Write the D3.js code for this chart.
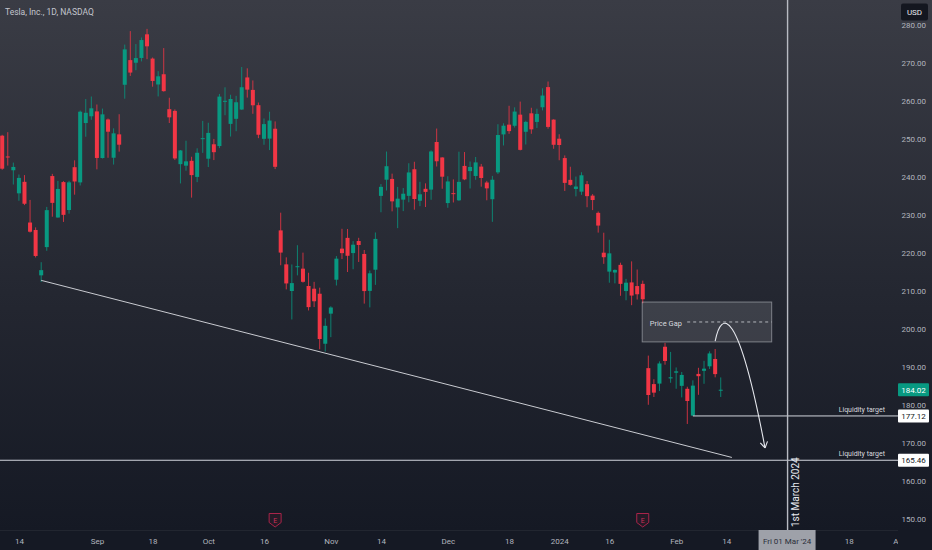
<!DOCTYPE html>
<html>
<head>
<meta charset="utf-8">
<script src="https://cdn.jsdelivr.net/npm/d3@7"></script>
<style>
  html, body { margin: 0; padding: 0; background: #151924; }
  svg { display: block; font-family: Roboto, "Noto Sans", sans-serif; }
</style>
</head>
<body>
<div id="chart"></div>
<script>
// Tesla daily candles, Aug 9 2023 - Feb 13 2024
var dates = ["2023-08-09","2023-08-10","2023-08-11","2023-08-14","2023-08-15","2023-08-16","2023-08-17","2023-08-18",
  "2023-08-21","2023-08-22","2023-08-23","2023-08-24","2023-08-25","2023-08-28","2023-08-29","2023-08-30","2023-08-31",
  "2023-09-01","2023-09-05","2023-09-06","2023-09-07","2023-09-08","2023-09-11","2023-09-12","2023-09-13","2023-09-14",
  "2023-09-15","2023-09-18","2023-09-19","2023-09-20","2023-09-21","2023-09-22","2023-09-25","2023-09-26","2023-09-27",
  "2023-09-28","2023-09-29","2023-10-02","2023-10-03","2023-10-04","2023-10-05","2023-10-06","2023-10-09","2023-10-10",
  "2023-10-11","2023-10-12","2023-10-13","2023-10-16","2023-10-17","2023-10-18","2023-10-19","2023-10-20","2023-10-23",
  "2023-10-24","2023-10-25","2023-10-26","2023-10-27","2023-10-30","2023-10-31","2023-11-01","2023-11-02","2023-11-03",
  "2023-11-06","2023-11-07","2023-11-08","2023-11-09","2023-11-10","2023-11-13","2023-11-14","2023-11-15","2023-11-16",
  "2023-11-17","2023-11-20","2023-11-21","2023-11-22","2023-11-24","2023-11-27","2023-11-28","2023-11-29","2023-11-30",
  "2023-12-01","2023-12-04","2023-12-05","2023-12-06","2023-12-07","2023-12-08","2023-12-11","2023-12-12","2023-12-13",
  "2023-12-14","2023-12-15","2023-12-18","2023-12-19","2023-12-20","2023-12-21","2023-12-22","2023-12-26","2023-12-27",
  "2023-12-28","2023-12-29","2024-01-02","2024-01-03","2024-01-04","2024-01-05","2024-01-08","2024-01-09","2024-01-10",
  "2024-01-11","2024-01-12","2024-01-16","2024-01-17","2024-01-18","2024-01-19","2024-01-22","2024-01-23","2024-01-24",
  "2024-01-25","2024-01-26","2024-01-29","2024-01-30","2024-01-31","2024-02-01","2024-02-02","2024-02-05","2024-02-06",
  "2024-02-07","2024-02-08","2024-02-09","2024-02-12","2024-02-13"];

var opens = [250.87,245.40,241.77,235.70,238.73,228.02,226.06,214.12,
  221.55,240.25,229.34,238.66,231.31,242.58,238.58,254.20,255.98,
  257.26,245.00,255.14,245.07,251.22,264.27,270.76,270.07,271.32,
  277.55,271.16,264.35,267.04,257.85,257.40,243.38,242.98,244.26,
  240.02,250.00,244.81,248.61,248.14,260.00,253.98,255.31,257.75,
  266.20,262.92,258.90,250.05,250.10,252.70,225.95,217.01,210.00,
  216.50,215.88,211.32,210.60,209.28,196.12,204.04,212.97,221.15,
  223.98,219.98,223.15,219.75,210.03,215.60,235.03,239.29,239.49,
  232.00,234.04,235.04,242.04,233.75,236.89,236.68,249.21,245.14,
  233.14,235.75,233.87,242.92,241.55,240.27,242.74,238.55,234.15,
  241.22,251.21,253.78,253.48,256.41,251.90,256.76,254.49,258.35,
  263.66,255.10,250.08,244.98,239.25,236.86,236.14,238.11,235.10,
  230.57,220.08,215.10,214.86,216.88,209.99,212.26,211.30,211.88,
  189.70,185.50,185.63,195.33,187.00,188.50,185.04,184.26,177.21,
  188.18,189.00,190.18,192.11,183.99];

var highs = [251.10,251.80,243.79,240.66,240.50,233.97,226.74,217.58,
  232.13,240.82,238.98,238.92,239.00,244.38,257.48,260.51,261.18,
  259.08,258.00,255.39,252.81,256.52,274.85,278.39,274.98,276.71,
  278.98,271.44,267.85,273.93,260.86,257.79,247.10,249.55,245.33,
  247.55,254.77,254.28,250.02,261.86,263.60,261.65,261.36,268.94,
  268.60,265.41,259.60,255.40,257.18,254.63,230.61,218.86,216.98,
  222.05,220.10,214.80,212.41,210.88,202.80,205.99,219.20,226.37,
  226.32,223.12,224.00,220.80,215.38,225.40,238.14,246.70,240.88,
  237.39,237.10,243.62,244.01,238.75,238.33,247.00,252.75,245.22,
  240.19,239.37,246.66,246.57,244.08,245.27,243.44,238.99,240.30,
  253.88,254.13,258.74,258.34,259.84,254.80,258.22,257.97,263.34,
  265.13,255.19,251.25,245.68,242.70,240.12,241.25,238.96,235.50,
  230.93,225.34,223.49,215.67,217.45,213.19,217.80,215.65,212.73,
  193.00,186.78,191.48,196.36,193.97,189.88,188.69,184.81,186.49,
  189.79,191.62,194.12,194.73,187.26];

var lows = [241.90,243.00,238.02,233.75,232.61,225.38,218.83,212.36,
  220.58,229.55,229.29,228.18,230.35,235.35,237.77,250.59,255.05,
  242.01,244.86,245.06,243.27,246.67,260.61,266.60,268.10,270.42,
  271.00,263.76,261.20,262.46,254.21,244.48,238.31,241.66,234.58,
  238.65,246.35,242.62,244.45,247.60,256.25,250.65,252.05,257.65,
  260.90,256.63,250.22,248.48,247.08,242.08,216.78,210.42,202.51,
  214.11,212.20,204.88,205.77,194.67,194.07,197.85,211.45,218.40,
  215.00,215.72,217.64,206.68,205.69,211.61,230.72,236.45,230.96,
  226.54,231.02,233.34,231.40,232.33,232.10,234.01,242.76,236.91,
  231.90,233.29,233.70,239.17,236.98,239.27,237.45,233.87,228.20,
  240.79,248.30,251.36,253.01,247.00,248.55,251.37,252.91,257.52,
  252.71,247.43,244.41,236.32,237.73,234.90,235.30,232.04,231.29,
  225.37,217.15,212.18,212.01,208.74,207.56,206.27,207.75,206.77,
  180.06,182.10,183.67,190.61,185.85,184.28,182.00,175.01,177.11,
  182.68,185.58,189.48,187.28,182.11];

var closes = [242.19,245.34,242.65,239.76,232.96,225.60,219.22,215.49,
  231.28,233.19,236.86,230.04,238.59,238.82,257.18,256.90,258.08,
  245.01,256.49,251.92,251.49,248.50,273.58,267.48,271.30,276.04,
  274.39,265.28,266.50,262.59,255.70,244.88,246.99,244.12,240.50,
  246.38,250.22,251.60,246.53,261.16,260.05,260.53,259.67,263.62,
  262.99,258.87,251.12,253.92,254.85,242.68,220.11,211.99,212.08,
  216.52,212.42,205.76,207.30,197.36,200.84,205.66,218.51,219.96,
  219.27,222.18,222.11,209.98,214.65,223.71,237.41,242.84,233.59,
  234.30,235.60,241.20,234.21,235.45,236.08,246.72,244.14,240.08,
  238.83,235.58,238.72,239.37,242.64,243.84,239.74,237.01,239.29,
  251.05,253.50,252.08,257.22,247.14,254.50,252.54,256.61,261.44,
  253.18,248.48,248.42,238.45,237.93,237.49,240.45,234.96,233.94,
  227.22,218.89,219.91,215.55,211.88,212.19,208.80,209.14,207.83,
  182.63,183.25,190.93,191.59,187.29,188.86,187.91,181.06,185.10,
  187.58,189.56,193.57,188.13,184.02];

// axis ticks
var priceTicks = [150, 160, 170, 180, 190, 200, 210, 220, 230, 240, 250, 260, 270, 280];
// bar index (from first candle) of each time label, future bars included
var timeTickIdx = [3, 17, 27, 37, 47, 59, 68, 80, 91, 100, 109, 121, 130, 152, 161];
var timeTickLabels = ["14", "Sep", "18", "Oct", "16", "Nov", "14", "Dec", "18", "2024", "16", "Feb", "14", "18", "Apr"];

// earnings days (bar index)
var earningsIdx = [49, 115];

// drawings, in bar index / price
var marchIdx = 141;
var levels = [177.12, 165.46];
var levelStartIdx = [124, -1];
var trendLine = [[7, 212.8], [131, 166.2]];
var gapBox = {x0: 114.9, x1: 138.15, top: 207.1, bottom: 196.6};
var arrowPts = [[128.0, 196.8], [129.1, 205.0], [132.1, 206.3], [136.95, 168.7]];
var lastPrice = closes[closes.length - 1];

var width = 932, height = 550;
var plotRight = 898, plotBottom = 530;

var upColor = "#089981", downColor = "#f23645";

var svg = d3.select("#chart").append("svg")
  .attr("width", width)
  .attr("height", height);

var defs = svg.append("defs");
var grad = defs.append("linearGradient")
  .attr("id", "bg").attr("x1", 0).attr("y1", 0).attr("x2", 0).attr("y2", 1);
grad.append("stop").attr("offset", "0%").attr("stop-color", "#3a3c45");
grad.append("stop").attr("offset", "55%").attr("stop-color", "#242731");
grad.append("stop").attr("offset", "100%").attr("stop-color", "#151924");

defs.append("clipPath").attr("id", "plotClip")
  .append("rect").attr("x", 0).attr("y", 0).attr("width", plotRight).attr("height", plotBottom);
defs.append("clipPath").attr("id", "timeClip")
  .append("rect").attr("x", 0).attr("y", plotBottom).attr("width", plotRight).attr("height", height - plotBottom);

svg.append("rect").attr("width", width).attr("height", plotBottom).attr("fill", "url(#bg)");
svg.append("rect").attr("y", plotBottom).attr("width", width).attr("height", height - plotBottom).attr("fill", "#151924");
svg.append("line")
  .attr("x1", 0).attr("x2", plotRight).attr("y1", plotBottom + 0.5).attr("y2", plotBottom + 0.5)
  .attr("stroke", "rgba(255,255,255,0.06)");

// scales
var x = d3.scaleLinear().domain([0, 160]).range([2.2, 2.2 + 160 * 5.57]);
var y = d3.scaleLinear().domain([150, 270]).range([519, 63]);

var plot = svg.append("g").attr("clip-path", "url(#plotClip)");

// candles
var candles = plot.selectAll("g.candle")
  .data(dates)
  .enter()
  .append("g")
  .attr("class", "candle");

candles.append("line")
  .attr("x1", function(d, i) { return x(i); })
  .attr("x2", function(d, i) { return x(i); })
  .attr("y1", function(d, i) { return y(highs[i]); })
  .attr("y2", function(d, i) { return y(lows[i]); })
  .attr("stroke", function(d, i) { return closes[i] >= opens[i] ? upColor : downColor; })
  .attr("stroke-opacity", 0.8)
  .attr("stroke-width", 1);

candles.append("rect")
  .attr("x", function(d, i) { return x(i) - 2; })
  .attr("width", 4)
  .attr("y", function(d, i) { return y(Math.max(opens[i], closes[i])); })
  .attr("height", function(d, i) {
    return Math.max(1, Math.abs(y(opens[i]) - y(closes[i])));
  })
  .attr("fill", function(d, i) { return closes[i] >= opens[i] ? upColor : downColor; });

// trend line
plot.append("line")
  .attr("x1", x(trendLine[0][0])).attr("y1", y(trendLine[0][1]))
  .attr("x2", x(trendLine[1][0])).attr("y2", y(trendLine[1][1]))
  .attr("stroke", "#c9cbd1").attr("stroke-width", 1);

// price gap box
plot.append("rect")
  .attr("x", x(gapBox.x0)).attr("y", y(gapBox.top))
  .attr("width", x(gapBox.x1) - x(gapBox.x0))
  .attr("height", y(gapBox.bottom) - y(gapBox.top))
  .attr("fill", "rgba(255,255,255,0.12)")
  .attr("stroke", "rgba(220,222,228,0.45)")
  .attr("stroke-width", 1);

var gapMid = (gapBox.top + gapBox.bottom) / 2;
plot.append("line")
  .attr("x1", x(gapBox.x0) + 45).attr("x2", x(gapBox.x1))
  .attr("y1", y(gapMid)).attr("y2", y(gapMid))
  .attr("stroke", "rgba(230,232,238,0.7)")
  .attr("stroke-dasharray", "3,3");

plot.append("text")
  .attr("x", x(gapBox.x0) + 7.5).attr("y", y(gapMid) + 1)
  .attr("dy", "0.35em")
  .attr("fill", "#d7d9df")
  .style("font-size", "7.5px")
  .text("Price Gap");

// liquidity levels
levels.forEach(function(p, k) {
  var x0 = levelStartIdx[k] < 0 ? 0 : x(levelStartIdx[k]);
  plot.append("line")
    .attr("x1", x0).attr("x2", plotRight)
    .attr("y1", y(p)).attr("y2", y(p))
    .attr("stroke", "#d1d4dc").attr("stroke-width", 1);
  plot.append("text")
    .attr("x", 885).attr("y", y(p) - 4)
    .attr("text-anchor", "end")
    .attr("fill", "#d7d9df")
    .style("font-size", "7px")
    .text("Liquidity target");
});

// curved arrow
var ap = arrowPts.map(function(p) { return [x(p[0]), y(p[1])]; });
plot.append("path")
  .attr("d", "M" + ap[0] + "C" + ap[1] + " " + ap[2] + " " + ap[3])
  .attr("fill", "none")
  .attr("stroke", "#e6e8ee").attr("stroke-width", 1.1);

var ang = Math.atan2(ap[3][1] - ap[2][1], ap[3][0] - ap[2][0]);
[-0.55, 0.55].forEach(function(da) {
  plot.append("line")
    .attr("x1", ap[3][0]).attr("y1", ap[3][1])
    .attr("x2", ap[3][0] - 7 * Math.cos(ang + da))
    .attr("y2", ap[3][1] - 7 * Math.sin(ang + da))
    .attr("stroke", "#e6e8ee").attr("stroke-width", 1.1);
});

// 1st March vertical line
svg.append("line")
  .attr("x1", x(marchIdx)).attr("x2", x(marchIdx))
  .attr("y1", 0).attr("y2", plotBottom)
  .attr("stroke", "#b8bbc3").attr("stroke-width", 1.4);

svg.append("text")
  .attr("transform", "translate(" + (x(marchIdx) + 11) + "," + (plotBottom - 3) + ") rotate(-90)")
  .attr("fill", "#e8eaf0")
  .style("font-size", "10px")
  .text("1st March 2024");

// earnings markers
var ev = svg.selectAll("g.earn")
  .data(earningsIdx)
  .enter()
  .append("g")
  .attr("class", "earn")
  .attr("transform", function(d) { return "translate(" + x(d) + ",513)"; });

ev.append("path")
  .attr("d", "M-6,0.5H6V9.5L0,14L-6,9.5Z")
  .attr("fill", "#241a26")
  .attr("stroke", "#a8244a")
  .attr("stroke-width", 1);

ev.append("text")
  .attr("y", 7.5)
  .attr("dy", "0.35em")
  .attr("text-anchor", "middle")
  .attr("fill", "#c9305a")
  .style("font-size", "7px")
  .text("E");

// price axis
var yAxis = d3.axisRight(y)
  .tickValues(priceTicks)
  .tickSize(0)
  .tickFormat(d3.format(".2f"));

var yg = svg.append("g")
  .attr("transform", "translate(926,0)")
  .call(yAxis);
yg.select(".domain").remove();
yg.selectAll("text")
  .attr("x", 0)
  .attr("text-anchor", "end")
  .attr("fill", "#b2b5be")
  .style("font-size", "8px")
  .style("font-family", "Roboto, sans-serif");

// price labels
function priceTag(p, bg, fg) {
  var g = svg.append("g").attr("transform", "translate(898," + y(p) + ")");
  g.append("rect")
    .attr("x", 0).attr("y", -6.5).attr("width", 31).attr("height", 13)
    .attr("rx", 1)
    .attr("fill", bg);
  g.append("text")
    .attr("x", 15.5).attr("dy", "0.35em")
    .attr("text-anchor", "middle")
    .attr("fill", fg)
    .style("font-size", "8px")
    .text(d3.format(".2f")(p));
}
priceTag(lastPrice, upColor, "#ffffff");
levels.forEach(function(p) { priceTag(p, "#ffffff", "#131722"); });

// USD button
svg.append("rect")
  .attr("x", 901).attr("y", 3.5).attr("width", 27).attr("height", 17)
  .attr("rx", 2)
  .attr("fill", "#141720");
svg.append("text")
  .attr("x", 914.5).attr("y", 12)
  .attr("dy", "0.35em")
  .attr("text-anchor", "middle")
  .attr("fill", "#e8eaf0")
  .style("font-size", "8px")
  .text("USD");

// time axis
var xAxis = d3.axisBottom(x)
  .tickValues(timeTickIdx)
  .tickSize(0)
  .tickFormat(function(d, i) { return timeTickLabels[i]; });

var xg = svg.append("g")
  .attr("clip-path", "url(#timeClip)")
  .append("g")
  .attr("transform", "translate(0," + plotBottom + ")")
  .call(xAxis);
xg.select(".domain").remove();
xg.selectAll("text")
  .attr("y", 11)
  .attr("dy", "0.35em")
  .attr("fill", "#b2b5be")
  .style("font-size", "8px")
  .style("font-family", "Roboto, sans-serif");

// crosshair time label
svg.append("rect")
  .attr("x", x(marchIdx) - 29).attr("y", plotBottom)
  .attr("width", 57).attr("height", height - plotBottom)
  .attr("fill", "#9ea1a9");
svg.append("text")
  .attr("x", x(marchIdx) - 0.5).attr("y", plotBottom + 11)
  .attr("dy", "0.35em")
  .attr("text-anchor", "middle")
  .attr("fill", "#2a2e39")
  .style("font-size", "8px")
  .text("Fri 01 Mar '24");

// title
svg.append("text")
  .attr("x", 5).attr("y", 12)
  .attr("dy", "0.35em")
  .attr("fill", "#c3c6ce")
  .style("font-size", "8.5px")
  .text("Tesla, Inc., 1D, NASDAQ");
</script>
</body>
</html>
